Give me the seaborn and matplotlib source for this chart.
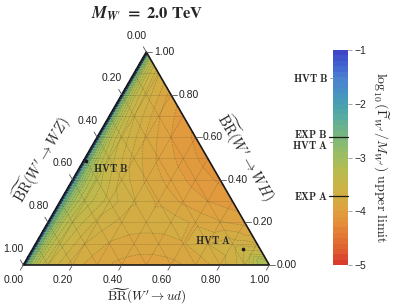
import matplotlib
matplotlib.use("Agg")
import matplotlib.pyplot as plt
import matplotlib.tri as mtri
from matplotlib.colors import LinearSegmentedColormap
import numpy as np
import seaborn as sns

# ternary grid: rows of constant BR(ud), nodes along BR(WH), value = log10(Gamma/M) limit
ud_levels = [0.0, 0.01, 0.03, 0.06, 0.1, 0.2, 0.3, 0.4, 0.5, 0.6, 0.7, 0.8, 0.85, 0.9, 0.95, 1.0]
wh_nodes = [
    [0.0, 0.1, 0.2, 0.3, 0.4, 0.5, 0.6, 0.7, 0.8, 0.9, 1.0],
    [0.0, 0.1, 0.2, 0.3, 0.4, 0.5, 0.6, 0.7, 0.8, 0.9, 0.99],
    [0.0, 0.1, 0.2, 0.3, 0.4, 0.5, 0.6, 0.7, 0.8, 0.9, 0.97],
    [0.0, 0.1, 0.2, 0.3, 0.4, 0.5, 0.6, 0.7, 0.8, 0.9, 0.94],
    [0.0, 0.1, 0.2, 0.3, 0.4, 0.5, 0.6, 0.7, 0.8, 0.9],
    [0.0, 0.1, 0.2, 0.3, 0.4, 0.5, 0.6, 0.7, 0.8],
    [0.0, 0.1, 0.2, 0.3, 0.4, 0.5, 0.6, 0.7],
    [0.0, 0.1, 0.2, 0.3, 0.4, 0.5, 0.6],
    [0.0, 0.1, 0.2, 0.3, 0.4, 0.5],
    [0.0, 0.1, 0.2, 0.3, 0.4],
    [0.0, 0.1, 0.2, 0.3],
    [0.0, 0.1, 0.2],
    [0.0, 0.075, 0.15],
    [0.0, 0.05, 0.1],
    [0.0, 0.025, 0.05],
    [0.0],
]
limit_vals = [
    [-1.0, -1.0, -1.0, -1.0, -1.0, -1.0, -1.0, -1.0, -1.0, -1.0, -1.0],
    [-2.55, -2.50, -2.45, -2.39, -2.34, -2.44, -2.52, -2.59, -2.64, -2.69, -2.74],
    [-3.01, -2.97, -2.91, -2.85, -2.82, -2.92, -3.00, -3.06, -3.12, -3.17, -3.20],
    [-3.30, -3.25, -3.20, -3.13, -3.12, -3.22, -3.30, -3.36, -3.42, -3.47, -3.49],
    [-3.50, -3.45, -3.40, -3.33, -3.34, -3.44, -3.52, -3.59, -3.64, -3.69],
    [-3.75, -3.70, -3.63, -3.55, -3.64, -3.74, -3.82, -3.89, -3.94],
    [-3.87, -3.81, -3.73, -3.69, -3.82, -3.92, -4.00, -4.06],
    [-3.93, -3.85, -3.75, -3.82, -3.94, -4.04, -4.12],
    [-3.95, -3.85, -3.74, -3.92, -4.04, -4.14],
    [-3.93, -3.81, -3.82, -4.00, -4.12],
    [-3.87, -3.70, -3.89, -4.06],
    [-3.75, -3.64, -3.94],
    [-3.66, -3.54, -3.85],
    [-3.50, -3.39, -3.69],
    [-3.23, -3.12, -3.42],
    [-3.10],
]

# benchmark points (BR(ud), BR(WH))
hvt_names = ["HVT A", "HVT B"]
hvt_ud = [0.856, 0.009]
hvt_wh = [0.077, 0.488]

# markers on the colour bar
bar_names = ["HVT B", "EXP B", "HVT A", "EXP A"]
bar_values = [-1.53, -2.61, -2.72, -3.72]

tick_vals = [0.0, 0.2, 0.4, 0.6, 0.8, 1.0]

rainbow = ["#d8352c", "#de5a30", "#e27434", "#e48c38", "#e0a040", "#d4ac44",
           "#c8b548", "#b8bb50", "#a0bd60", "#88bb70", "#70b488", "#58aca0",
           "#48a0b0", "#4890c8", "#4a80d0", "#4060d0", "#3e3fc4"]
cmap = LinearSegmentedColormap.from_list("rainbow_m", rainbow)

sns.set_theme(style="white")
plt.rcParams["font.family"] = ["Liberation Sans", "DejaVu Sans"]
plt.rcParams["mathtext.fontset"] = "cm"

S3 = np.sqrt(3) / 2
PX = 246.0


def cart(ud, wh):
    ud = np.asarray(ud, dtype=float)
    wh = np.asarray(wh, dtype=float)
    return ud + wh / 2, wh * S3


def px(x, y):
    return (x - 23.3) / PX, (265 - y) / PX


def strip_triangles(rows):
    # stitch neighbouring rows of nodes into triangles
    tris = []
    for r1, r2 in zip(rows[:-1], rows[1:]):
        (i1, b1), (i2, b2) = r1, r2
        p = q = 0
        while p < len(b1) - 1 or q < len(b2) - 1:
            if q >= len(b2) - 1 or (p < len(b1) - 1 and b1[p + 1] <= b2[q + 1]):
                tris.append([i1[p], i1[p + 1], i2[q]])
                p += 1
            else:
                tris.append([i1[p], i2[q + 1], i2[q]])
                q += 1
    return tris


fig = plt.figure(figsize=(3.95, 3.07), dpi=100)
ax = fig.add_axes([0, 0, 1, 1])
ax.set_xlim(-23.3 / PX, (395 - 23.3) / PX)
ax.set_ylim((265 - 307) / PX, 265 / PX)
ax.axis("off")

# field
ud_pts, wh_pts, z, rows = [], [], [], []
for ud, whs, vals in zip(ud_levels, wh_nodes, limit_vals):
    start = len(z)
    rows.append((list(range(start, start + len(whs))), whs))
    ud_pts += [ud] * len(whs)
    wh_pts += whs
    z += vals
xs, ys = cart(ud_pts, wh_pts)
tri = mtri.Triangulation(xs, ys, triangles=strip_triangles(rows))
levels = np.linspace(-5, -1, 41)
cf = ax.tricontourf(tri, z, levels=levels, cmap=cmap, vmin=-5, vmax=-1)
ax.tricontour(tri, z, levels=levels[1:-1], colors="k", linewidths=0.4, alpha=0.3)

# ternary grid lines
for t in np.arange(0.1, 1.0, 0.1):
    gx, gy = cart([t, t], [0, 1 - t])
    ax.plot(gx, gy, color="k", lw=0.4, alpha=0.22)
    gx, gy = cart([0, 1 - t], [t, t])
    ax.plot(gx, gy, color="k", lw=0.4, alpha=0.22)
    gx, gy = cart([1 - t, 0], [0, 1 - t])
    ax.plot(gx, gy, color="k", lw=0.4, alpha=0.22)

ax.plot([0, 1, 0.5, 0], [0, 0, S3, 0], color="k", lw=1.2, solid_capstyle="round")

# ticks and labels
L = 6 / PX
D = 19 / PX
tk = dict(color="#555555", lw=0.6)
lab = dict(fontsize=7.5, color="#222222")
for t in tick_vals:
    # bottom: BR(ud)
    x0, y0 = t, 0.0
    ax.plot([x0, x0 - 0.5 * L], [y0, y0 - S3 * L], **tk)
    ax.text(x0 - 0.5 * D, y0 - S3 * D + 1.5 / PX, f"{t:.2f}", ha="center", va="center", **lab)
    # right: BR(WH)
    x0, y0 = 1 - t / 2, t * S3
    ax.plot([x0, x0 + L], [y0, y0], **tk)
    ax.text(x0 + L + 1.5 / PX, y0, f"{t:.2f}", ha="left", va="center", **lab)
    # left: BR(WZ)
    x0, y0 = (1 - t) / 2, (1 - t) * S3
    ax.plot([x0, x0 - 0.5 * L], [y0, y0 + S3 * L], **tk)
    ax.text(x0 - 0.5 * D, y0 + S3 * D, f"{t:.2f}", ha="center", va="center", **lab)

ax.text(*px(147, 296.5), r"$\widetilde{\mathrm{BR}}(W^{\prime}\rightarrow ud)$",
        ha="center", va="center", fontsize=9.5)
ax.text(*px(42, 160), r"$\widetilde{\mathrm{BR}}(W^{\prime}\rightarrow WZ)$",
        ha="center", va="center", fontsize=10.5, rotation=60, rotation_mode="anchor")
ax.text(*px(246, 158), r"$\widetilde{\mathrm{BR}}(W^{\prime}\rightarrow WH)$",
        ha="center", va="center", fontsize=10.5, rotation=-60, rotation_mode="anchor")

ax.text(*px(147, 14), r"$\mathbfit{M}_{\mathbfit{W}\prime}\mathbf{\ =\ 2.0\ TeV}$",
        ha="center", va="center", fontsize=12, math_fontfamily="stix")

# benchmarks
bx, by = cart(hvt_ud, hvt_wh)
sns.scatterplot(x=bx, y=by, ax=ax, color="k", s=7, linewidth=0, zorder=6, legend=False)
ax.text(*px(195, 240.5), r"$\mathbf{HVT\ A}$", ha="left", va="center", fontsize=7.5)
ax.text(*px(93, 168), r"$\mathbf{HVT\ B}$", ha="left", va="center", fontsize=7.5)

# colour bar
cax = fig.add_axes([333 / 395, 42 / 307, 15 / 395, 215 / 307])
cb = fig.colorbar(cf, cax=cax, ticks=[-1, -2, -3, -4, -5])
cb.outline.set_visible(False)
cax.tick_params(length=3, width=0.6, color="#999999", labelsize=7.5, pad=2)
cax.set_yticklabels(["\u22121", "\u22122", "\u22123", "\u22124", "\u22125"])
cb.set_label(r"$\log_{10}(\widetilde{\Gamma}_{W^{\prime}}/M_{W^{\prime}})\ \mathrm{upper\ limit}$",
             rotation=-90, fontsize=10, labelpad=17)

trans = cax.get_yaxis_transform()
nudge = {"EXP B": 0.05, "HVT A": -0.04}
for name, v in zip(bar_names, bar_values):
    if name.startswith("EXP"):
        cax.plot([-0.27, 1.0], [v, v], color="k", lw=0.9, transform=trans, clip_on=False)
    else:
        cax.plot([-0.2, 0.0], [v, v], color="#999999", lw=0.6, transform=trans, clip_on=False)
    cax.text(-0.33, v + nudge.get(name, 0.0), r"$\mathbf{" + name.replace(" ", r"\ ") + "}$",
             transform=trans, ha="right", va="center", fontsize=7.5)

fig.savefig("out.png", dpi=100)
